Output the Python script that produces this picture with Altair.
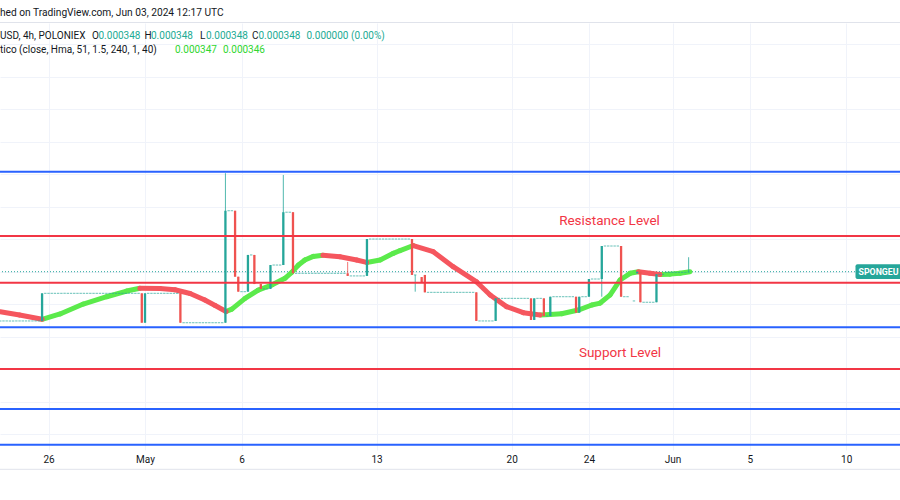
import altair as alt
import pandas as pd

# ---------------- data ----------------
# x = bar index: number of 4h bars since Apr 24 00:00 (TradingView even bar spacing)
tick_bars = [12, 42, 72, 114, 156, 180, 206, 230, 260]
tick_labels = ["26", "May", "6", "13", "20", "24", "Jun", "5", "10"]
x_domain = [-3.08, 276.71]
y_domain = [0.00033703, 0.00036330]
y_grid = [round(0.000338 + 0.000002 * i, 6) for i in range(13)]

# candles that have a body or a wick
cdl_bar = [10, 41, 42, 53, 67, 70, 71, 74, 76, 78, 81, 85, 88, 105, 111, 125, 126, 128,
           129, 145, 151, 162, 163, 166, 168, 176, 177, 180, 184, 190, 194, 195, 196, 201, 211]
cdl_open = [0.00034497, 0.00034667, 0.00034486, 0.00034667, 0.00034486, 0.00035175, 0.00034769,
            0.00034677, 0.00034903, 0.00034724, 0.00034694, 0.00034841, 0.00035166, 0.00034790,
            0.00034774, 0.00035001, 0.00034780, 0.00034767, 0.00034780, 0.00034673, 0.00034497,
            0.00034636, 0.00034503, 0.00034636, 0.00034527, 0.00034646, 0.00034548, 0.00034646,
            0.00034755, 0.00034958, 0.00034620, 0.00034790, 0.00034800, 0.00034612, 0.00034796]
cdl_close = [0.00034667, 0.00034486, 0.00034667, 0.00034486, 0.00035175, 0.00034769, 0.00034677,
             0.00034903, 0.00034724, 0.00034694, 0.00034841, 0.00035166, 0.00034790, 0.00034774,
             0.00035001, 0.00034780, 0.00034780, 0.00034732, 0.00034673, 0.00034497, 0.00034636,
             0.00034503, 0.00034636, 0.00034527, 0.00034646, 0.00034548, 0.00034646, 0.00034755,
             0.00034958, 0.00034646, 0.00034620, 0.00034800, 0.00034612, 0.00034784, 0.00034800]
cdl_high = [0.00034667, 0.00034667, 0.00034667, 0.00034667, 0.00035406, 0.00035175, 0.00034769,
            0.00034903, 0.00034903, 0.00034724, 0.00034841, 0.00035395, 0.00035166, 0.00034860,
            0.00035001, 0.00035001, 0.00034780, 0.00034767, 0.00034780, 0.00034673, 0.00034636,
            0.00034636, 0.00034636, 0.00034636, 0.00034646, 0.00034646, 0.00034646, 0.00034755,
            0.00034958, 0.00034958, 0.00034620, 0.00034800, 0.00034800, 0.00034784, 0.00034889]
cdl_low = [0.00034497, 0.00034486, 0.00034486, 0.00034486, 0.00034486, 0.00034769, 0.00034677,
           0.00034677, 0.00034724, 0.00034694, 0.00034694, 0.00034841, 0.00034790, 0.00034774,
           0.00034774, 0.00034780, 0.00034677, 0.00034732, 0.00034673, 0.00034497, 0.00034497,
           0.00034503, 0.00034503, 0.00034527, 0.00034527, 0.00034548, 0.00034548, 0.00034646,
           0.00034646, 0.00034646, 0.00034620, 0.00034790, 0.00034612, 0.00034612, 0.00034796]

# runs of flat (open == close) 4h bars: first bar, last bar, price
flat_from = [-3, 11, 43, 54, 68, 72, 75, 79, 82, 86, 89, 106, 112, 130, 146, 152, 164,
             167, 169, 178, 181, 185, 191, 197, 202, 204]
flat_to = [9, 40, 52, 66, 69, 73, 75, 80, 84, 87, 104, 110, 124, 144, 150, 161, 165,
           167, 175, 179, 183, 189, 192, 200, 203, 210]
flat_price = [0.00034497, 0.00034667, 0.00034667, 0.00034486, 0.00035175, 0.00034677, 0.00034903,
              0.00034694, 0.00034841, 0.00035166, 0.00034790, 0.00034774, 0.00035001, 0.00034673,
              0.00034497, 0.00034636, 0.00034636, 0.00034527, 0.00034646, 0.00034646, 0.00034755,
              0.00034958, 0.00034646, 0.00034612, 0.00034784, 0.00034796]

# Hull-MA indicator line
hma_bar = [-3, 3, 10, 15.6, 22.8, 30.1, 36.3, 40.4, 46.7, 51.3, 56.0, 60.6, 63.8, 67.2, 69.0,
           73.1, 77.2, 81.4, 85.5, 87.6, 89.7, 91.7, 94.3, 97.3, 102.6, 107.8, 110.9, 115.1,
           119.2, 121.3, 125.4, 131.6, 137.8, 145.1, 149.3, 154.4, 159.6, 164.8, 167.9, 171.5,
           176.7, 180.9, 183.5, 186.6, 189.7, 192.8, 195.4, 199.0, 202.1, 205.2, 208.3, 211.4]
hma_val = [0.00034554, 0.00034534, 0.00034507, 0.00034540, 0.00034601, 0.00034646, 0.00034681,
           0.00034698, 0.00034696, 0.00034689, 0.00034666, 0.00034626, 0.00034592, 0.00034555,
           0.00034570, 0.00034636, 0.00034687, 0.00034718, 0.00034759, 0.00034796, 0.00034841,
           0.00034872, 0.00034894, 0.00034901, 0.00034892, 0.00034872, 0.00034857, 0.00034872,
           0.00034913, 0.00034930, 0.00034961, 0.00034923, 0.00034831, 0.00034737, 0.00034657,
           0.00034585, 0.00034548, 0.00034534, 0.00034536, 0.00034541, 0.00034564, 0.00034595,
           0.00034607, 0.00034657, 0.00034749, 0.00034790, 0.00034800, 0.00034790, 0.00034783,
           0.00034785, 0.00034790, 0.00034800]

# drawn horizontal levels
red_levels = [0.00035020, 0.00034732, 0.00034201]
blue_levels = [0.00035415, 0.00034458, 0.00033955, 0.00033735]

# ---------------- styling ----------------
TEAL = "#26A69A"
RED = "#EF5350"
HMA_UP = "#5BEA4B"
HMA_DOWN = "#F5565E"
LINE_RED = "#F23645"
LINE_BLUE = "#2962FF"
GRID = "#F0F3FA"
INK = "#131722"
FONT = "Roboto"

x_scale = alt.Scale(domain=x_domain, nice=False, zero=False)
y_scale = alt.Scale(domain=y_domain, nice=False, zero=False)
label_expr = " : ".join(f"datum.value == {b} ? '{l}'" for b, l in zip(tick_bars, tick_labels)) + " : ''"
x_axis = alt.Axis(values=tick_bars, labelExpr=label_expr, grid=True, gridColor=GRID, domain=False,
                  ticks=False, labelFont=FONT, labelFontSize=10, labelColor=INK, labelPadding=4,
                  labelFlush=False, labelOverlap=False, title=None)
y_axis = alt.Axis(values=y_grid, grid=True, gridColor=GRID, labels=False, ticks=False,
                  domain=False, title=None, orient="right")


def xq(f):
    return alt.X(f"{f}:Q", scale=x_scale, axis=x_axis)


def yq(f):
    return alt.Y(f"{f}:Q", scale=y_scale, axis=y_axis)


# ---------------- tables ----------------
cdl = pd.DataFrame({"bar": cdl_bar, "open": cdl_open, "high": cdl_high,
                    "low": cdl_low, "close": cdl_close})
cdl["up"] = cdl["close"] >= cdl["open"]
bodies = cdl[cdl["open"] != cdl["close"]]
flat_rows = [(b, p) for f, t, p in zip(flat_from, flat_to, flat_price) for b in range(f, t + 1)]
dojis = pd.concat([
    pd.DataFrame(flat_rows, columns=["bar", "price"]),
    cdl.loc[cdl["open"] == cdl["close"], ["bar", "open"]].rename(columns={"open": "price"}),
])
hma = pd.DataFrame({"bar": hma_bar[:-1], "bar2": hma_bar[1:], "v": hma_val[:-1], "v2": hma_val[1:]})
hma["up"] = hma["v2"] > hma["v"]

layers = []

# last price dotted line
last = pd.DataFrame({"p": [cdl_close[-1]]})
layers.append(alt.Chart(last).mark_rule(color=TEAL, strokeDash=[1, 2], strokeWidth=1)
              .encode(y=yq("p")))

# HMA line, coloured by direction
for is_up, col in [(True, HMA_UP), (False, HMA_DOWN)]:
    layers.append(alt.Chart(hma[hma["up"] == is_up]).mark_rule(color=col, strokeWidth=5, strokeCap="round")
                  .encode(x=xq("bar"), x2="bar2", y=yq("v"), y2="v2"))

# wicks, bodies, dojis
for is_up, col in [(True, TEAL), (False, RED)]:
    sub = cdl[cdl["up"] == is_up]
    layers.append(alt.Chart(sub).mark_rule(color=col, strokeWidth=1, opacity=0.8)
                  .encode(x=xq("bar"), y=yq("low"), y2="high"))
for is_up, col in [(True, TEAL), (False, RED)]:
    sub = bodies[bodies["up"] == is_up]
    layers.append(alt.Chart(sub).mark_rule(color=col, strokeWidth=2.3)
                  .encode(x=xq("bar"), y=yq("open"), y2="close"))
layers.append(alt.Chart(dojis).mark_tick(orient="horizontal", color=TEAL, size=2.4, thickness=1)
              .encode(x=xq("bar"), y=yq("price")))

# horizontal drawn levels
layers.append(alt.Chart(pd.DataFrame({"p": red_levels})).mark_rule(color=LINE_RED, strokeWidth=2)
              .encode(y=yq("p")))
layers.append(alt.Chart(pd.DataFrame({"p": blue_levels})).mark_rule(color=LINE_BLUE, strokeWidth=2)
              .encode(y=yq("p")))


def txt(s, x, y, color=INK, size=10, weight="normal", align="left"):
    return alt.Chart(pd.DataFrame({"t": [s]})).mark_text(
        align=align, baseline="middle", color=color, fontSize=size, font=FONT, fontWeight=weight
    ).encode(x=alt.value(x), y=alt.value(y), text="t:N")


# header separators
layers.append(alt.Chart(pd.DataFrame({"a": [0]})).mark_rule(color="#E0E3EB", strokeWidth=1)
              .encode(x=alt.value(0), x2=alt.value(900), y=alt.value(-0.5)))
layers.append(alt.Chart(pd.DataFrame({"a": [0]})).mark_rule(color="#E0E3EB", strokeWidth=1)
              .encode(x=alt.value(0), x2=alt.value(900), y=alt.value(446.3)))

# texts (plot area starts 23px below page top)
layers += [
    txt("hed on TradingView.com, Jun 03, 2024 12:17 UTC", 0, -10, size=10.2),
    txt("USD, 4h, POLONIEX", 0, 13),
    txt("O", 92, 13), txt("0.000348", 98.5, 13, color="#22AB94"),
    txt("H", 144.5, 13), txt("0.000348", 151, 13, color="#22AB94"),
    txt("L", 200, 13), txt("0.000348", 206, 13, color="#22AB94"),
    txt("C", 252, 13), txt("0.000348", 258.5, 13, color="#22AB94"),
    txt("0.000000 (0.00%)", 306.5, 13, color="#22AB94"),
    txt("tico (close, Hma, 51, 1.5, 240, 1, 40)", 0, 27),
    txt("0.000347", 175, 27, color="#2FD62F"),
    txt("0.000346", 223, 27, color="#2FD62F"),
    txt("Resistance Level", 609.5, 198, color=LINE_RED, size=13.5, align="center"),
    txt("Support Level", 620, 330, color=LINE_RED, size=13.5, align="center"),
]

# symbol price tag at the right edge
layers.append(alt.Chart(pd.DataFrame({"a": [0]})).mark_rect(color=TEAL, cornerRadius=2)
              .encode(x=alt.value(855.5), x2=alt.value(906), y=alt.value(241.3), y2=alt.value(256)))
layers.append(txt("SPONGEU", 858.5, 248.8, color="white", size=8.8, weight="bold"))

chart = alt.layer(*layers).properties(
    width=900, height=427,
    padding={"left": 0, "right": 0, "top": 23, "bottom": 50},
    autosize=alt.AutoSizeParams(type="none"),
    background="white",
).configure_view(stroke=None)

chart.save("out.html", embed_options={"renderer": "svg", "actions": False})
